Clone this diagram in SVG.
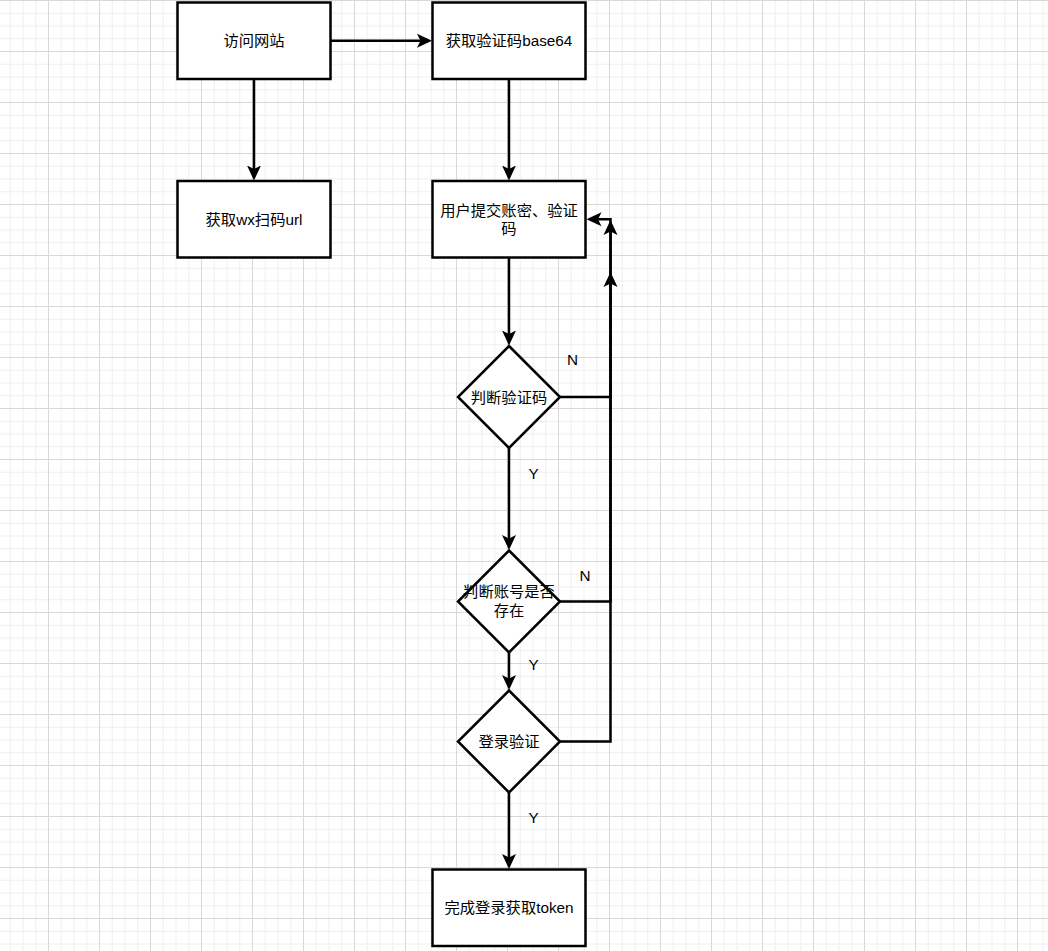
<svg xmlns="http://www.w3.org/2000/svg" width="1048" height="951" viewBox="0 0 1048 951">
<defs>
<pattern id="grid" x="-3" y="0" width="51" height="51" patternUnits="userSpaceOnUse">
<rect x="0" y="0" width="51" height="51" fill="#ffffff"/>
<g fill="#f0f0f0">
<rect x="12.75" y="0" width="1" height="51"/>
<rect x="25.5" y="0" width="1" height="51"/>
<rect x="38.25" y="0" width="1" height="51"/>
<rect x="0" y="12.75" width="51" height="1"/>
<rect x="0" y="25.5" width="51" height="1"/>
<rect x="0" y="38.25" width="51" height="1"/>
</g>
<g fill="#d8d8d8">
<rect x="0" y="0" width="1" height="51"/>
<rect x="0" y="0" width="51" height="1"/>
</g>
</pattern>
<marker id="arrow" viewBox="0 0 16 16" markerWidth="16" markerHeight="16" refX="4" refY="8" orient="auto" markerUnits="userSpaceOnUse">
<path d="M15,8 L0,1 L3.5,8 L0,15 Z" fill="#000000"/>
</marker>
</defs>
<style>
.box{fill:#ffffff;stroke:#000000;stroke-width:2.5;}
.edge{fill:none;stroke:#000000;stroke-width:2.5;marker-end:url(#arrow);}
.t{font-family:"Liberation Sans","Noto Sans CJK SC",Arial,sans-serif;font-size:15.3px;fill:#000000;text-anchor:middle;}
</style>
<rect x="0" y="0" width="1048" height="951" fill="url(#grid)"/>
<g id="connectors">
<path class="edge" d="M330.5,40.75 H421"/>
<path class="edge" d="M254,79 V169.5"/>
<path class="edge" d="M509,79 V169.5"/>
<path class="edge" d="M509,257.5 V334.5"/>
<path class="edge" d="M509,448 V539"/>
<path class="edge" d="M509,652.5 V679"/>
<path class="edge" d="M509,792.5 V858"/>
<path class="edge" d="M560,397 H610.5 V219.25 H597.5"/>
<path class="edge" d="M560,601.5 H610.5 V231"/>
<path class="edge" d="M560,741.5 H610.5 V283"/>
<text class="t" x="572.5" y="364.5">N</text>
<text class="t" x="585" y="581">N</text>
<text class="t" x="533.5" y="478.5">Y</text>
<text class="t" x="533.5" y="669.5">Y</text>
<text class="t" x="533.5" y="822.5">Y</text>
</g>
<g id="node-visit">
<rect class="box" x="177.5" y="2.5" width="153" height="76.5"/>
<text class="t" x="254" y="46.25">访问网站</text>
</g>
<g id="node-captcha">
<rect class="box" x="432.5" y="2.5" width="153" height="76.5"/>
<text class="t" x="509" y="46.25">获取验证码base64</text>
</g>
<g id="node-wx">
<rect class="box" x="177.5" y="181" width="153" height="76.5"/>
<text class="t" x="254" y="224.75">获取wx扫码url</text>
</g>
<g id="node-submit">
<rect class="box" x="432.5" y="181" width="153" height="76.5"/>
<text class="t" x="509" y="215.5">用户提交账密、验证</text>
<text class="t" x="509" y="233.9">码</text>
</g>
<g id="node-check-captcha">
<polygon class="box" points="509,346 560,397 509,448 458,397"/>
<text class="t" x="509" y="402.5">判断验证码</text>
</g>
<g id="node-check-account">
<polygon class="box" points="509,550.5 560,601.5 509,652.5 458,601.5"/>
<text class="t" x="509" y="597.3">判断账号是否</text>
<text class="t" x="509" y="615.7">存在</text>
</g>
<g id="node-login">
<polygon class="box" points="509,690.5 560,741.5 509,792.5 458,741.5"/>
<text class="t" x="509" y="747">登录验证</text>
</g>
<g id="node-done">
<rect class="box" x="432.5" y="869.5" width="153" height="76.5"/>
<text class="t" x="509" y="913.25">完成登录获取token</text>
</g>
</svg>
